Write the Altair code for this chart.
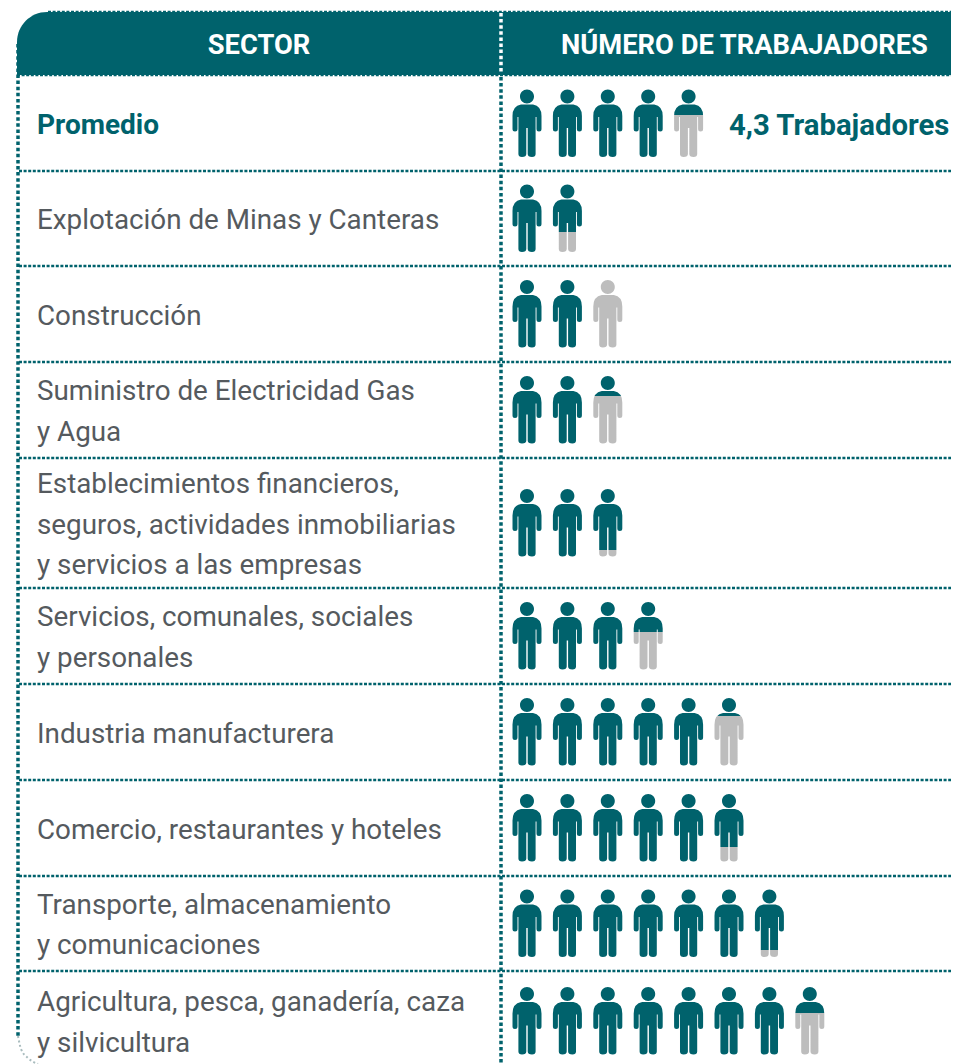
import altair as alt
import pandas as pd

# ---- values ----
sectors = [
    ["Promedio"],
    ["Explotación de Minas y Canteras"],
    ["Construcción"],
    ["Suministro de Electricidad Gas", "y Agua"],
    ["Establecimientos financieros,", "seguros, actividades inmobiliarias", "y servicios a las empresas"],
    ["Servicios, comunales, sociales", "y personales"],
    ["Industria manufacturera"],
    ["Comercio, restaurantes y hoteles"],
    ["Transporte, almacenamiento", "y comunicaciones"],
    ["Agricultura, pesca, ganadería, caza", "y silvicultura"],
]
workers = [4.38, 1.7, 2.0, 2.29, 2.9, 3.45, 5.26, 5.78, 6.9, 7.38]
icons_shown = [5, 2, 3, 3, 3, 4, 6, 6, 7, 8]
headers = ["SECTOR", "NÚMERO DE TRABAJADORES"]
average_label = "4,3 Trabajadores"

# ---- layout (page pixels) ----
W, H = 943, 1056
row_edges = [76, 171, 266, 362, 458, 588, 684, 780, 876, 971, 1071]
TEAL, GREY, INK = "#00626c", "#bdbdbd", "#555a5e"
FONT = "Roboto"
LEFT, SPLIT = 18, 501
PERSON = ("M -6 -18.5 L 6 -18.5 Q 14.5 -17 14.5 -7 L 14.5 6 Q 14.5 8.5 12 8.5 Q 9.5 8.5 9.5 6 L 9.5 -6 L 8.6 -6 "
          "L 8.6 31 Q 8.6 34 5 34 Q 0.7 34 0.7 31 L 0.7 5 L -0.7 5 L -0.7 31 Q -0.7 34 -5 34 Q -8.6 34 -8.6 31 L -8.6 -6 L -9.5 -6 "
          "L -9.5 6 Q -9.5 8.5 -12 8.5 Q -14.5 8.5 -14.5 6 L -14.5 -7 Q -14.5 -17 -6 -18.5 Z "
          "M -7 -26.5 A 7 7 0 1 1 7 -26.5 A 7 7 0 1 1 -7 -26.5 Z")

xs = alt.Scale(domain=[8, 8 + W], range=[0, W])
ys = alt.Scale(domain=[8 + H, 8], range=[H, 0])
X = lambda f="x": alt.X(f"{f}:Q", scale=xs, axis=None)
Y = lambda f="y": alt.Y(f"{f}:Q", scale=ys, axis=None)

centers = [(a + b) / 2 for a, b in zip(row_edges[:-1], row_edges[1:])]

layers = []

# header band
layers.append(
    alt.Chart(pd.DataFrame([{"x": 17, "x2": 8 + W + 10, "y": 12, "y2": 75}]))
    .mark_rect(color=TEAL, cornerRadiusTopLeft=30, clip=True)
    .encode(x=X(), x2="x2:Q", y=Y(), y2="y2:Q")
)

# horizontal dotted rules
edge_rows = [{"y": 12, "x": 48}, {"y": 75, "x": 17}] + [{"y": e, "x": 19} for e in row_edges[1:-1]]
layers.append(
    alt.Chart(pd.DataFrame(edge_rows))
    .mark_rule(color=TEAL, strokeWidth=2.5, strokeDash=[3, 1.6])
    .encode(y=Y(), x=X(), x2=alt.value(W + 5))
)

# vertical dotted rules
v_rows = [
    {"x": LEFT, "y": 44, "y2": 1036, "c": TEAL},
    {"x": SPLIT, "y": 13, "y2": 74, "c": "#ffffff"},
    {"x": SPLIT, "y": 77, "y2": 1064, "c": TEAL},
]
layers.append(
    alt.Chart(pd.DataFrame(v_rows))
    .mark_rule(strokeWidth=3.5, strokeDash=[3.5, 2.6])
    .encode(x=X(), y=Y(), y2="y2:Q", color=alt.Color("c:N", scale=None))
)

# fading bottom-left corner
layers.append(
    alt.Chart(pd.DataFrame([{"x": 18, "y": 1036}, {"x": 21, "y": 1049}, {"x": 28, "y": 1058}, {"x": 38, "y": 1064}]))
    .mark_line(color="#a9bcbe", strokeWidth=2, strokeDash=[2, 2.5], interpolate="monotone")
    .encode(x=X(), y=Y(), order="y:Q")
)

# pictogram: one layer per distinct fill fraction
icons = []
for row, (value, count) in enumerate(zip(workers, icons_shown)):
    for i in range(count):
        frac = round(min(max(value - i, 0), 1), 2)
        icons.append({"x": 527 + 40.4 * i, "y": centers[row] - 0.5, "frac": frac})
icons = pd.DataFrame(icons)
for frac, part in icons.groupby("frac"):
    if frac >= 1:
        fill = TEAL
    elif frac <= 0:
        fill = GREY
    else:
        fill = alt.LinearGradient(
            gradient="linear", x1=0, x2=0, y1=0, y2=1,
            stops=[
                alt.GradientStop(offset=0, color=TEAL),
                alt.GradientStop(offset=float(frac), color=TEAL),
                alt.GradientStop(offset=float(frac), color=GREY),
                alt.GradientStop(offset=1, color=GREY),
            ],
        )
    layers.append(
        alt.Chart(part[["x", "y"]])
        .mark_point(shape=PERSON, size=4, filled=True, fill=fill, opacity=1, strokeWidth=0)
        .encode(x=X(), y=Y())
    )

# row labels
label_rows = []
for row, lines in enumerate(sectors):
    for k, line in enumerate(lines):
        label_rows.append({"x": 37, "y": centers[row] + 2.5 + (k - (len(lines) - 1) / 2) * 40.5, "t": line, "row": row})
labels = pd.DataFrame(label_rows)
layers.append(
    alt.Chart(labels[labels.row > 0])
    .mark_text(font=FONT, fontSize=27.8, color=INK, align="left", baseline="middle")
    .encode(x=X(), y=Y(), text="t:N")
)
layers.append(
    alt.Chart(labels[labels.row == 0])
    .mark_text(font=FONT, fontSize=28, fontWeight="bold", color=TEAL, align="left", baseline="middle")
    .encode(x=X(), y=Y(), text="t:N")
)
layers.append(
    alt.Chart(pd.DataFrame([{"x": 729, "y": centers[0] + 2, "t": average_label}]))
    .mark_text(font=FONT, fontSize=29.3, fontWeight="bold", color=TEAL, align="left", baseline="middle")
    .encode(x=X(), y=Y(), text="t:N")
)

# header text
layers.append(
    alt.Chart(pd.DataFrame([{"x": 259, "y": 46, "t": headers[0]}, {"x": 744.5, "y": 46, "t": headers[1]}]))
    .mark_text(font=FONT, fontSize=27.3, fontWeight="bold", color="#ffffff", align="center", baseline="middle")
    .encode(x=X(), y=Y(), text="t:N")
)

chart = (
    alt.layer(*layers)
    .properties(width=W, height=H, padding=0, autosize=alt.AutoSizeParams(type="none"), background="#ffffff")
    .configure_view(stroke=None)
)
chart.save("out.html", embed_options={"renderer": "svg", "actions": False})
